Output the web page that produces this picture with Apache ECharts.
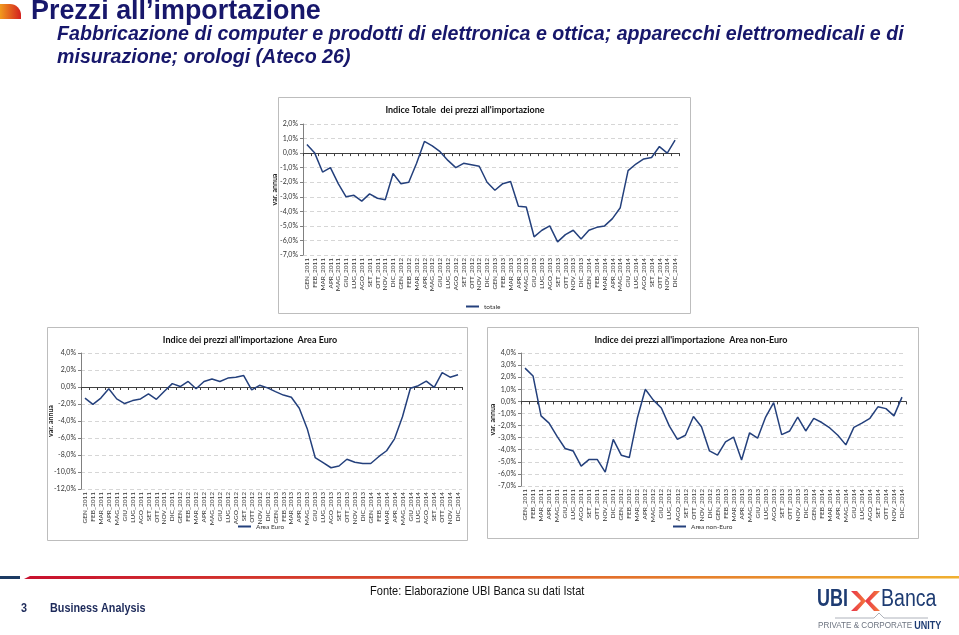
<!DOCTYPE html>
<html>
<head>
<meta charset="utf-8">
<script src="https://cdn.jsdelivr.net/npm/echarts@6/dist/echarts.min.js"></script>
<style>
  html, body { margin: 0; padding: 0; background: #fff; }
  #chart { width: 959px; height: 635px; }
</style>
</head>
<body>
<div id="chart"></div>
<script>
// mesi gen 2011 - dic 2014
const mesi = ['GEN', 'FEB', 'MAR', 'APR', 'MAG', 'GIU', 'LUG', 'AGO', 'SET', 'OTT', 'NOV', 'DIC'];
const anni = ['2011', '2012', '2013', '2014'];
const categorie = [];
anni.forEach((a) => { mesi.forEach((m) => { categorie.push(m + '_' + a); }); });

const totale = [
  0.6, 0.0, -1.3, -1.0, -2.1, -3.0, -2.9, -3.3, -2.8, -3.1, -3.2, -1.4,
  -2.1, -2.0, -0.7, 0.8, 0.5, 0.1, -0.5, -1.0, -0.7, -0.8, -0.9, -2.0,
  -2.55, -2.1, -1.95, -3.65, -3.7, -5.75, -5.3, -5.0, -6.1, -5.6, -5.3, -5.9,
  -5.3, -5.1, -5.0, -4.5, -3.75, -1.2, -0.75, -0.4, -0.3, 0.45, 0.0, 0.9,
];
const areaEuro = [
  -1.3, -2.05, -1.3, -0.2, -1.4, -1.95, -1.6, -1.4, -0.8, -1.45, -0.5, 0.4,
  0.05, 0.65, -0.2, 0.65, 0.95, 0.65, 1.05, 1.15, 1.35, -0.35, 0.2, -0.1,
  -0.55, -0.95, -1.2, -2.5, -4.9, -8.3, -8.9, -9.5, -9.3, -8.5, -8.85, -9.0,
  -9.0, -8.2, -7.5, -6.1, -3.5, -0.15, 0.15, 0.7, -0.05, 1.7, 1.15, 1.45,
];
const areaNonEuro = [
  2.75, 2.1, -1.2, -1.8, -2.9, -3.9, -4.1, -5.35, -4.8, -4.8, -5.85, -3.15,
  -4.45, -4.65, -1.4, 1.0, 0.1, -0.55, -2.05, -3.15, -2.8, -1.25, -2.1, -4.1,
  -4.45, -3.35, -2.95, -4.85, -2.6, -3.05, -1.3, -0.1, -2.75, -2.45, -1.3, -2.45,
  -1.4, -1.75, -2.2, -2.8, -3.6, -2.15, -1.8, -1.4, -0.45, -0.6, -1.2, 0.35,
];

const titoli = [
  "Indice Totale  dei prezzi all'importazione",
  "Indice dei prezzi all'importazione  Area Euro",
  "Indice dei prezzi all'importazione  Area non-Euro",
];
const nomiSerie = ['totale', 'Area Euro', 'Area non-Euro'];
const scale = [[-7, 2, 1], [-12, 4, 2], [-7, 4, 1]];

const blu = '#24407c';
const navy = '#17176b';
const chartFont = 'Lato, "Open Sans", sans-serif';

// posizione dei tre grafici
const boxes = [
  { x: 278, y: 97, w: 412, h: 216 },
  { x: 47, y: 327, w: 420, h: 213 },
  { x: 487, y: 327, w: 431, h: 211 },
];
const grids = [
  { left: 303, top: 124, width: 376, height: 131 },
  { left: 81, top: 353, width: 381, height: 136 },
  { left: 521, top: 353, width: 385, height: 133 },
];
const titleX = [460, 245, 686];
const nameGap = [25, 27, 25];
const legendPos = [[461, 298], [233, 518], [668, 518]];

const pct = (v) => v.toFixed(1).replace('.', ',') + '%';

const xAxes = [];
const yAxes = [];
const series = [];
const legends = [];
const titles = [];
[totale, areaEuro, areaNonEuro].forEach((dati, i) => {
  // asse con le etichette in basso
  xAxes.push({
    type: 'category',
    gridIndex: i,
    data: categorie,
    position: 'bottom',
    axisLine: { show: false, onZero: false },
    axisTick: { show: false },
    axisLabel: {
      interval: 0, rotate: 90, fontSize: 6.5, color: '#333', margin: 3, fontFamily: chartFont,
    },
  });
  // linea dello zero
  xAxes.push({
    type: 'category',
    gridIndex: i,
    data: categorie,
    position: 'bottom',
    axisLine: { show: true, onZero: true, lineStyle: { color: '#404040', width: 1 } },
    axisTick: { show: true, interval: 0, length: 3, lineStyle: { color: '#404040' } },
    axisLabel: { show: false },
  });
  yAxes.push({
    type: 'value',
    gridIndex: i,
    min: scale[i][0],
    max: scale[i][1],
    interval: scale[i][2],
    name: 'var. annua',
    nameLocation: 'middle',
    nameRotate: 90,
    nameGap: nameGap[i],
    nameMoveOverlap: false,
    nameTextStyle: { fontSize: 7, fontWeight: 'bold', color: '#222', fontFamily: chartFont },
    axisLine: { show: true, lineStyle: { color: '#808080' } },
    axisTick: { show: true, length: 3, lineStyle: { color: '#808080' } },
    axisLabel: {
      fontSize: 7, color: '#333', margin: 5, formatter: pct, fontFamily: chartFont,
    },
    splitLine: { show: true, lineStyle: { color: '#d6d6d6', type: [4, 3] } },
  });
  series.push({
    name: nomiSerie[i],
    type: 'line',
    xAxisIndex: i * 2,
    yAxisIndex: i,
    data: dati,
    symbol: 'none',
    lineStyle: { color: blu, width: 1.5 },
    itemStyle: { color: blu },
  });
  legends.push({
    data: [nomiSerie[i]],
    left: legendPos[i][0],
    top: legendPos[i][1],
    icon: 'rect',
    itemWidth: 13,
    itemHeight: 2,
    itemGap: 2,
    textStyle: { fontSize: 6.5, color: '#333', fontFamily: chartFont },
  });
  titles.push({
    text: titoli[i],
    left: titleX[i],
    textAlign: 'center',
    top: boxes[i].y + 4,
    textStyle: { fontSize: 9, fontWeight: 'bold', color: '#111', fontFamily: chartFont },
  });
});

const graphics = [];
// cornici dei grafici
boxes.forEach((b) => {
  graphics.push({
    type: 'rect', z: -1, silent: true,
    shape: { x: b.x + 0.5, y: b.y + 0.5, width: b.w, height: b.h },
    style: { fill: '#fff', stroke: '#bdbdbd', lineWidth: 1 },
  });
});

// testata
graphics.push({
  type: 'rect', silent: true,
  shape: { x: 0, y: 4, width: 21, height: 15, r: [0, 11, 0, 0] },
  style: {
    fill: new echarts.graphic.LinearGradient(0, 0, 1, 0, [
      { offset: 0, color: '#f19a1f' }, { offset: 1, color: '#d3201e' },
    ]),
  },
});
graphics.push({
  type: 'text', x: 31, y: -3, silent: true,
  style: {
    text: 'Prezzi all’importazione', fill: navy,
    font: 'bold 28px "Liberation Sans", sans-serif',
  },
  scaleX: 0.96,
});
graphics.push({
  type: 'text', x: 57, y: 23, silent: true,
  style: {
    text: 'Fabbricazione di computer e prodotti di elettronica e ottica; apparecchi elettromedicali e di\nmisurazione; orologi (Ateco 26)',
    fill: navy, lineHeight: 23,
    font: 'italic bold 21px "Liberation Sans", sans-serif',
  },
  scaleX: 0.935,
});

// piede di pagina
graphics.push({
  type: 'rect', silent: true,
  shape: { x: 0, y: 576, width: 20, height: 3 },
  style: { fill: '#1d3b63' },
});
graphics.push({
  type: 'polygon', silent: true,
  shape: { points: [[24, 579], [30, 576], [959, 576], [959, 578.5], [30, 579]] },
  style: {
    fill: new echarts.graphic.LinearGradient(0, 0, 1, 0, [
      { offset: 0, color: '#c8102e' }, { offset: 0.5, color: '#de5a2a' }, { offset: 1, color: '#f0b030' },
    ]),
  },
});
graphics.push({
  type: 'text', x: 370, y: 585, silent: true,
  style: { text: 'Fonte: Elaborazione UBI Banca su dati Istat', fill: '#111', font: '13px "Liberation Sans", sans-serif' },
  scaleX: 0.85,
});
graphics.push({
  type: 'text', x: 21, y: 603, silent: true,
  style: { text: '3', fill: '#1d2a5a', font: 'bold 12px "Liberation Sans", sans-serif' },
  scaleX: 0.9,
});
graphics.push({
  type: 'text', x: 50, y: 603, silent: true,
  style: { text: 'Business Analysis', fill: '#1d2a5a', font: 'bold 12px "Liberation Sans", sans-serif' },
  scaleX: 0.9,
});
// logo
graphics.push({
  type: 'text', x: 817, y: 588, silent: true,
  style: { text: 'UBI', fill: '#1d3b72', font: 'bold 23px "Liberation Sans", sans-serif' },
  scaleX: 0.78,
});
const chevron = new echarts.graphic.LinearGradient(0, 0, 1, 0, [
  { offset: 0, color: '#e8334a' }, { offset: 1, color: '#f47a3a' },
]);
graphics.push({
  type: 'polygon', silent: true,
  shape: { points: [[851, 591], [861, 601], [851, 611], [857, 611], [866, 601], [857, 591]] },
  style: { fill: chevron },
});
graphics.push({
  type: 'polygon', silent: true,
  shape: { points: [[880, 591], [870, 601], [880, 611], [874, 611], [865, 601], [874, 591]] },
  style: { fill: chevron },
});
graphics.push({
  type: 'text', x: 881, y: 588, silent: true,
  style: { text: 'Banca', fill: '#1d3b72', font: '23px "Liberation Sans", sans-serif' },
  scaleX: 0.85,
});
graphics.push({
  type: 'polyline', silent: true,
  shape: { points: [[835, 618], [874, 618], [879, 613], [884, 618], [928, 618]] },
  style: { stroke: '#9aa0aa', lineWidth: 0.8, fill: null },
});
graphics.push({
  type: 'text', x: 818, y: 621, silent: true,
  style: {
    text: '{a|PRIVATE & CORPORATE }{b|UNITY}',
    rich: {
      a: { fill: '#6d7480', font: '9px "Liberation Sans", sans-serif' },
      b: { fill: '#1d3b72', font: 'bold 10px "Liberation Sans", sans-serif' },
    },
  },
  scaleX: 0.9,
});

const chart = echarts.init(document.getElementById('chart'));
chart.setOption({
  animation: false,
  backgroundColor: '#fff',
  title: titles,
  legend: legends,
  grid: grids,
  xAxis: xAxes,
  yAxis: yAxes,
  series,
  graphic: graphics,
});
</script>
</body>
</html>
